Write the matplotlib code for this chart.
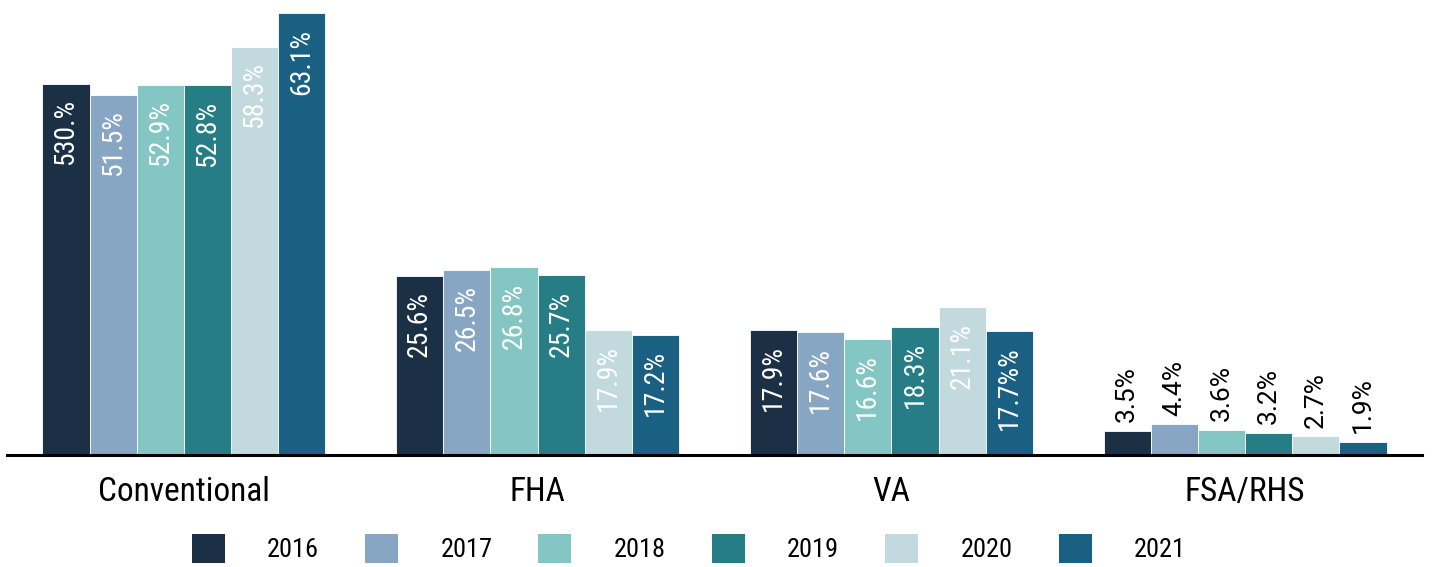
import matplotlib
matplotlib.use('Agg')
import matplotlib.pyplot as plt
import numpy as np
from matplotlib.patches import Patch

plt.rcParams['font.family'] = ['Roboto Condensed', 'DejaVu Sans']

categories = ['Conventional', 'FHA', 'VA', 'FSA/RHS']
years = ['2016', '2017', '2018', '2019', '2020', '2021']
colors = ['#1b2f45', '#87a6c3', '#84c6c3', '#267d85', '#c2dadd', '#1a6082']

values = {
    '2016': [53.0, 25.6, 17.9, 3.5],
    '2017': [51.5, 26.5, 17.6, 4.4],
    '2018': [52.9, 26.8, 16.6, 3.6],
    '2019': [52.8, 25.7, 18.3, 3.2],
    '2020': [58.3, 17.9, 21.1, 2.7],
    '2021': [63.1, 17.2, 17.7, 1.9],
}
# labels as printed in the source
labels = {
    '2016': ['530.%', '25.6%', '17.9%', '3.5%'],
    '2017': ['51.5%', '26.5%', '17.6%', '4.4%'],
    '2018': ['52.9%', '26.8%', '16.6%', '3.6%'],
    '2019': ['52.8%', '25.7%', '18.3%', '3.2%'],
    '2020': ['58.3%', '17.9%', '21.1%', '2.7%'],
    '2021': ['63.1%', '17.2%', '17.7%%', '1.9%'],
}

fig = plt.figure(figsize=(14.32, 5.67), dpi=100)
ax = fig.add_axes([0.0049, 0.1975, 0.9881, 0.8025])

x = np.arange(len(categories))
w = 0.8 / len(years)
for i, yr in enumerate(years):
    pos = x - 0.4 + w * (i + 0.5)
    ax.bar(pos, values[yr], width=w, color=colors[i], edgecolor='white', linewidth=0.6)
    for j, (p, v) in enumerate(zip(pos, values[yr])):
        if v > 10:
            ax.annotate(labels[yr][j], (p, v), xytext=(0, -11), textcoords='offset points',
                        rotation=90, ha='center', va='top', color='white', fontsize=20)
        else:
            ax.annotate(labels[yr][j], (p, v), xytext=(0, 6), textcoords='offset points',
                        rotation=90, ha='center', va='bottom', color='black', fontsize=19,
                        family=['Roboto', 'DejaVu Sans'])

ax.set_xlim(-0.5, 3.5)
ax.set_ylim(0, 65)
ax.set_xticks(x)
ax.set_xticklabels(categories, fontsize=24)
ax.tick_params(axis='x', length=0, pad=15)
ax.set_yticks([])
for s in ['top', 'right', 'left']:
    ax.spines[s].set_visible(False)
ax.spines['bottom'].set_linewidth(2.2)

handles = [Patch(facecolor=c, label=y) for c, y in zip(colors, years)]
fig.legend(handles=handles, loc='lower center', ncol=6, frameon=False, fontsize=19,
           bbox_to_anchor=(0.481, -0.016), borderpad=0, handlelength=1.25, handleheight=1.3,
           columnspacing=1.75, handletextpad=1.6)

fig.savefig('out.png', dpi=100)
